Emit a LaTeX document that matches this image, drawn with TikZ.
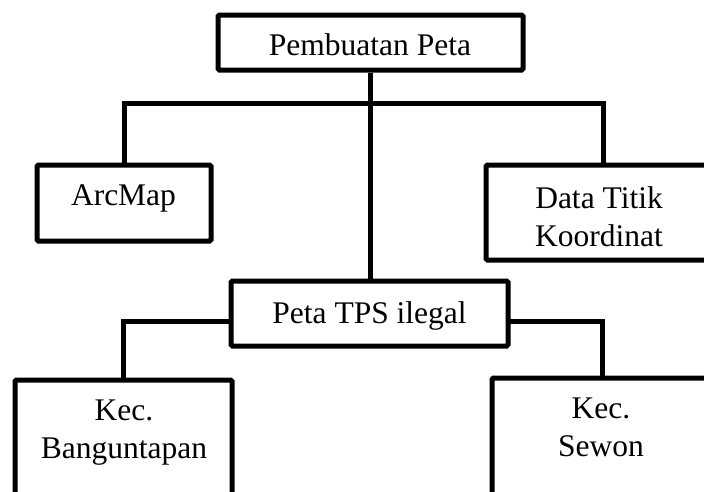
\documentclass[tikz,border=0pt]{standalone}
\usepackage{fontspec}
\setmainfont{Liberation Serif}
\usetikzlibrary{backgrounds}
\begin{document}
\begin{tikzpicture}[x=1pt,y=-1pt,
  box/.style={draw=black, line width=5pt, rounded corners=1.5pt, fill=white,
    inner sep=0pt, shape=rectangle},
  lbl/.style={font=\fontsize{31.5}{38}\selectfont, inner sep=0pt, align=center},
  link/.style={draw=black, line width=5pt, line join=miter},
  linkshadow/.style={draw=black!35, line width=5pt, line join=miter,
    opacity=0.6, shift={(2pt,-2.5pt)}}]
\useasboundingbox (0,0) rectangle (704,491);
\clip (0,0) rectangle (704,491);

% junctions on the connector lines
\coordinate (j1) at (369,103);
\coordinate (lj) at (231,321);
\coordinate (rj) at (508,321);

% boxes
\node[box, minimum width=305pt, minimum height=55pt]  (top)   at (370.5,42.5) {};
\node[box, minimum width=174pt, minimum height=76pt]  (arc)   at (124,203)    {};
\node[box, minimum width=234pt, minimum height=95pt]  (data)  at (603,212.5)  {};
\node[box, minimum width=277pt, minimum height=65pt]  (tps)   at (369.5,313.5){};
\node[box, minimum width=217pt, minimum height=130pt] (bang)  at (123.5,445)  {};
\node[box, minimum width=220pt, minimum height=132pt] (sewon) at (602,444)    {};

% soft shadows under the connectors, kept behind the boxes
\begin{pgfonlayer}{background}
\draw[linkshadow] (top.south) -- (top.south |- tps.north);
\draw[linkshadow] (arc.north) |- (j1) -| (data.north);
\draw[linkshadow] (lj) -| (bang.north);
\draw[linkshadow] (rj) -| (sewon.north);
\end{pgfonlayer}

% connectors
\draw[link] (top.south) -- (top.south |- tps.north);
\draw[link] (arc.north) |- (j1) -| (data.north);
\draw[link] (lj) -| (bang.north);
\draw[link] (rj) -| (sewon.north);

% box texts
\node[lbl, anchor=base]  (ttop)   at (370,55)    {Pembuatan Peta};
\node[lbl, anchor=base]  (tarc)   at (123.5,205) {ArcMap};
\node[lbl, anchor=north] (tdata)  at (599,186.5) {Data Titik\\Koordinat};
\node[lbl, anchor=base]  (ttps)   at (369.5,323) {Peta TPS ilegal};
\node[lbl, anchor=north] (tbang)  at (124,399.5) {Kec.\\Banguntapan};
\node[lbl, anchor=north] (tsewon) at (601,398)   {Kec.\\Sewon};
\end{tikzpicture}
\end{document}
